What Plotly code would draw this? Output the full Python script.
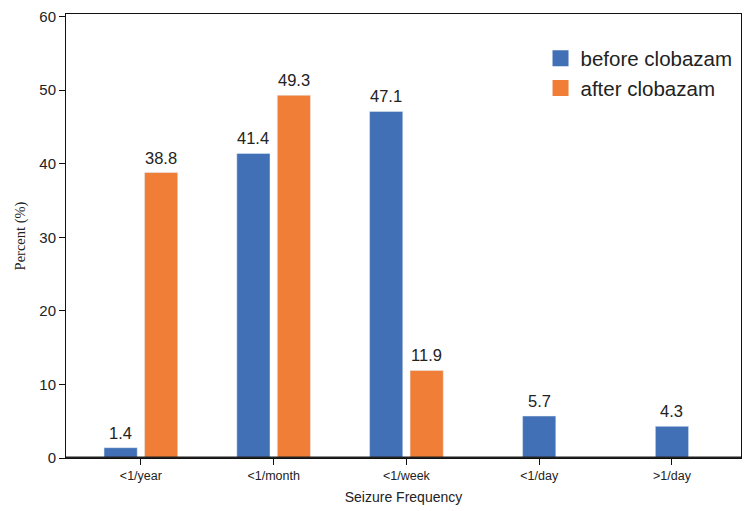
import plotly.graph_objects as go

categories = ["<1/year", "<1/month", "<1/week", "<1/day", ">1/day"]
before_vals = [1.4, 41.4, 47.1, 5.7, 4.3]
after_vals = [38.8, 49.3, 11.9, None, None]
series_names = ["before clobazam", "after clobazam"]
y_ticks = [0, 10, 20, 30, 40, 50, 60]

BLUE = "#4170B6"
ORANGE = "#F07E37"
BW = 0.25
GAP = 0.055
FONT = "Liberation Sans, Arial"

xs = list(range(len(categories)))
has_pair = [a is not None for a in after_vals]
blue_off = [-(BW + GAP / 2) if p else -BW / 2 for p in has_pair]

ax = [x for x, a in zip(xs, after_vals) if a is not None]
av = [a for a in after_vals if a is not None]
orange_off = [GAP / 2] * len(ax)

fig = go.Figure()
fig.add_trace(go.Bar(
    x=xs, y=before_vals, name=series_names[0], marker_color=BLUE,
    width=[BW] * len(xs), offset=blue_off, showlegend=False,
))
fig.add_trace(go.Bar(
    x=ax, y=av, name=series_names[1], marker_color=ORANGE,
    width=[BW] * len(ax), offset=orange_off, showlegend=False,
))
# legend entries with larger square swatches
for name, col in zip(series_names, [BLUE, ORANGE]):
    fig.add_trace(go.Scatter(
        x=[None], y=[None], mode="markers", name=name,
        marker=dict(symbol="square", size=18, color=col),
    ))

# value labels
for x, v, o in zip(xs, before_vals, blue_off):
    fig.add_annotation(x=x + o + BW / 2, y=v, text=f"{v:.1f}", showarrow=False,
                       yanchor="bottom", yshift=4,
                       font=dict(size=16.5, color="#222", family=FONT))
for x, v, o in zip(ax, av, orange_off):
    fig.add_annotation(x=x + o + BW / 2, y=v, text=f"{v:.1f}", showarrow=False,
                       yanchor="bottom", yshift=4,
                       font=dict(size=16.5, color="#222", family=FONT))

fig.update_layout(
    width=750, height=511,
    margin=dict(l=66, r=8, t=13, b=52),
    barmode="overlay",
    plot_bgcolor="white", paper_bgcolor="white",
    font=dict(family=FONT, color="#222"),
    legend=dict(x=0.703, y=0.945, xanchor="left", yanchor="top",
                font=dict(size=20.5, color="#222"), bgcolor="rgba(0,0,0,0)",
                tracegroupgap=0),
    xaxis=dict(
        tickmode="array", tickvals=xs, ticktext=categories,
        range=[-0.564, 4.52],
        showline=True, linecolor="#111", linewidth=1, mirror=True,
        ticks="outside", ticklen=6, tickcolor="#111",
        tickfont=dict(size=12.5),
        showgrid=False, zeroline=False,
        title=dict(text="Seizure Frequency", font=dict(size=14), standoff=10),
    ),
    yaxis=dict(
        range=[0, 60.35], tickvals=y_ticks,
        showline=True, linecolor="#111", linewidth=1, mirror=True,
        ticks="outside", ticklen=6, tickcolor="#111",
        tickfont=dict(size=15),
        showgrid=False, zeroline=False,
        title=dict(text="Percent (%)", font=dict(size=14.5, family="Liberation Serif, Times New Roman"), standoff=10),
    ),
)
fig.add_shape(type="line", xref="paper", yref="y", x0=0, x1=1, y0=0, y1=0,
              line=dict(color="#222", width=3))

fig.write_html("out.html")
